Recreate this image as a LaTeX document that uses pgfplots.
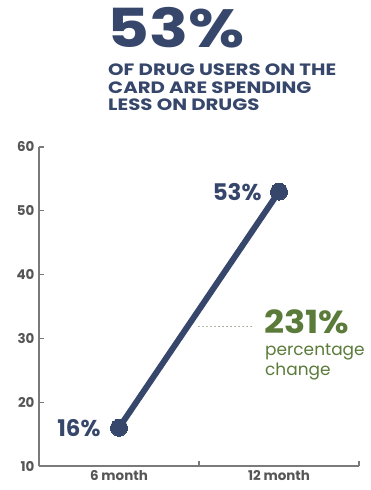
\documentclass[border=0pt]{standalone}
\usepackage{fontspec}
\setmainfont{Poppins}
\usepackage{pgfplots}
\pgfplotsset{compat=1.18}
\definecolor{navy}{HTML}{36476B}
\definecolor{grn}{HTML}{5B7B3A}
\definecolor{axgray}{HTML}{7A7A7A}
\definecolor{lblgray}{HTML}{555555}
\begin{document}
\begin{tikzpicture}
\path[use as bounding box] (-39bp,-24bp) rectangle (332bp,466bp);
\begin{axis}[
  scale only axis, width=320bp, height=319bp,
  xmin=0, xmax=2, ymin=10, ymax=60,
  axis x line*=bottom, axis y line*=left,
  axis line style={-, draw=axgray, line width=1.3bp},
  tick align=inside, major tick length=5bp,
  tick style={draw=axgray, line width=1.1bp},
  xtick={0,1,2}, xticklabels={},
  extra x ticks={0.5,1.5}, extra x tick labels={6 month,12 month},
  extra x tick style={major tick length=0pt},
  ytick={10,20,30,40,50,60},
  /pgf/number format/assume math mode=true,
  ticklabel style={font=\bfseries\fontsize{13.5}{14}\selectfont, text=lblgray},
  yticklabel style={xshift=-1bp},
  xticklabel style={yshift=-1bp},
  clip=false,
]
\addplot[navy, line width=6bp, mark=*, mark size=8.5bp, mark options={fill=navy, draw=navy, line width=0pt}] coordinates {(0.5,16) (1.5,53)};
\draw[draw=grn!70!gray, line width=1.4bp, line cap=round, dash pattern=on 0.01bp off 4bp] (axis cs:1,31.9) -- (axis cs:1.35,31.9);
\node[anchor=east, text=navy, font=\bfseries\fontsize{23}{24}\selectfont] at (axis cs:0.5,16) [xshift=-15bp] {16\%};
\node[anchor=east, text=navy, font=\bfseries\fontsize{23}{24}\selectfont] at (axis cs:1.5,53) [xshift=-14bp] {53\%};
\end{axis}
% titles (pixel coords -> (X-39, 466-Y))
\node[anchor=south west, inner sep=0pt, text depth=0pt, text=navy, font=\bfseries\fontsize{54}{54}\selectfont, xscale=1.2] at (68bp,418bp) {53\%};
\node[anchor=north west, inner sep=0pt, text=navy, align=left, font=\bfseries\fontsize{16.5}{17.5}\selectfont, xscale=1.2] at (69bp,402bp) {OF DRUG USERS ON THE\\CARD ARE SPENDING\\LESS ON DRUGS};
\node[anchor=north west, inner sep=0pt, text depth=0pt, text=grn, font=\bfseries\fontsize{32}{32}\selectfont, xscale=1.1] at (225bp,157bp) {231\%};
\node[anchor=north west, inner sep=0pt, text=grn, align=left, font=\fontsize{17}{19.5}\selectfont] at (226bp,122bp) {percentage\\change};
\end{tikzpicture}
\end{document}
